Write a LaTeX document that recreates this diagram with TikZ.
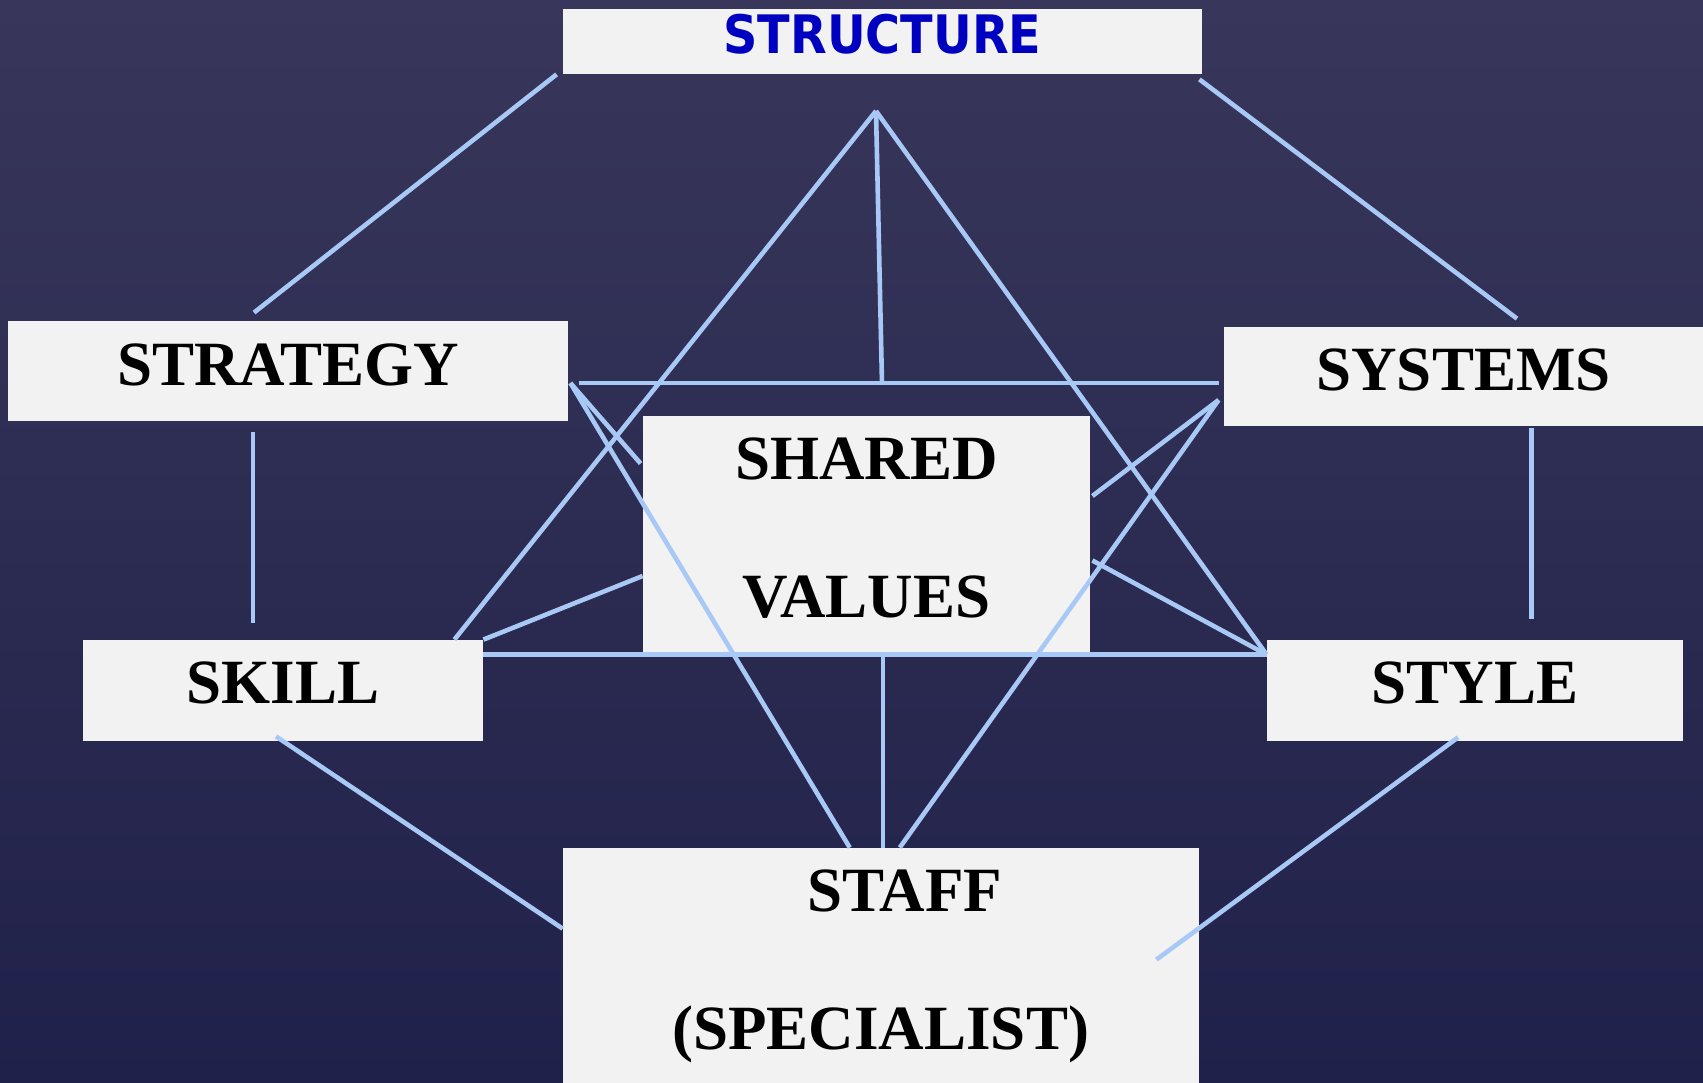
\documentclass[tikz,border=0pt]{standalone}
\usepackage{fontspec}
\setmainfont{Liberation Serif}
\newfontfamily\headfont{DejaVu Sans}
\usepackage{graphicx}
\usepackage{tikz}
\definecolor{boxgrey}{RGB}{242,242,242}
\definecolor{linkblue}{RGB}{168,200,245}
\definecolor{headblue}{RGB}{0,0,192}
\definecolor{bgtop}{RGB}{56,54,90}
\definecolor{bgbottom}{RGB}{32,33,74}
\tikzstyle{block} = [rectangle, fill=boxgrey, inner sep=0pt,
    font=\fontsize{31.5}{69}\selectfont\bfseries, align=center]
\tikzstyle{link} = [draw=linkblue, line width=2.3pt]

\begin{document}
\begin{tikzpicture}[x=0.5pt, y=-0.5pt]
  \useasboundingbox (0,0) rectangle (1703,1082);
  \shade [top color=bgtop, bottom color=bgbottom] (0,0) rectangle (1703,1082);

  \node [block, minimum width=319.5pt, minimum height=32.5pt, text depth=8pt,
         font=\headfont\fontsize{26.5}{30}\selectfont\bfseries, text=headblue]
        (structure) at (882.5,41.5) {\scalebox{0.9}[1]{STRUCTURE}};

  \node [block, minimum width=280pt, minimum height=50pt, text depth=6.5pt] (strategy) at (288,371) {STRATEGY};
  \node [block, minimum width=239.5pt, minimum height=49.5pt, text depth=7pt] (systems) at (1463.5,376.5) {SYSTEMS};
  \node [block, minimum width=223.5pt, minimum height=119.5pt] (shared) at (866.5,535.5)
        {SHARED\\VALUES\rule[-7.5pt]{0pt}{7.5pt}};
  \node [block, minimum width=200pt, minimum height=50.5pt, text depth=8pt] (skill) at (283,690.5) {SKILL};
  \node [block, minimum width=208pt, minimum height=50.5pt, text depth=8pt] (style) at (1475,690.5) {STYLE};
  \node [block, minimum width=317.75pt, minimum height=120pt] (staff) at (880.75,968)
        {\hspace*{24pt}STAFF\\(SPECIALIST)\rule[-8.5pt]{0pt}{8.5pt}};

  \coordinate (apex) at (876,111);

  % outer ring
  \draw [link] ([shift={(-6,0)}]structure.south west) -- ([shift={(-34,-8)}]strategy.north);
  \draw [link] ([shift={(-3,5)}]structure.south east) -- ([shift={(53.5,-8)}]systems.north);
  \draw [link] ([shift={(-35,11)}]strategy.south) -- ([shift={(-30,-17)}]skill.north);
  \draw [link] ([shift={(68,2)}]systems.south) -- ([shift={(56.5,-21)}]style.north);
  \draw [link] ([shift={(-7,-5)}]skill.south) -- ([shift={(0,81)}]staff.north west);
  \draw [link] ([shift={(-17,-4)}]style.south) -- ([shift={(-42.5,112)}]staff.north east);

  % inner web
  \draw [link] (apex) -- ([shift={(-29,0)}]skill.north east);
  \draw [link] (apex) -- ([shift={(0,15)}]style.north west);
  \draw [link] (apex) -- ([shift={(15.5,-32)}]shared.north);
  \draw [link] ([shift={(11,12)}]strategy.east) -- ([shift={(-5,6.5)}]systems.west);
  \draw [link] ([shift={(0,15)}]skill.north east) -- ([shift={(0,15)}]style.north west);
  \draw [link] ([shift={(2,12)}]strategy.east) -- ([shift={(-31,0)}]staff.north);
  \draw [link] ([shift={(2,12)}]strategy.east) -- ([shift={(-2,-72)}]shared.west);
  \draw [link] ([shift={(-5,23.5)}]systems.west) -- ([shift={(19,0)}]staff.north);
  \draw [link] ([shift={(-5,23.5)}]systems.west) -- ([shift={(2,-39.5)}]shared.east);
  \draw [link] ([shift={(0,40.5)}]shared.west) -- (skill.north east);
  \draw [link] ([shift={(2,25)}]shared.east) -- ([shift={(0,15)}]style.north west);
  \draw [link] ([shift={(16.5,0)}]shared.south) -- ([shift={(2.25,0)}]staff.north);
\end{tikzpicture}
\end{document}
